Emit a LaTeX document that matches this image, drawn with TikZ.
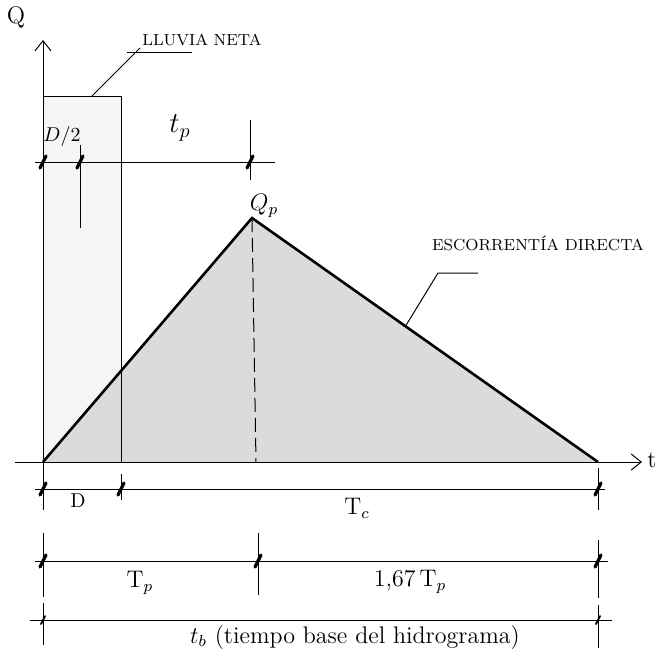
\documentclass[tikz,border=0pt]{standalone}
\usepackage{amsmath,amssymb}
\usepackage{tikz}
\usetikzlibrary{arrows.meta,positioning,calc}

\begin{document}
\begin{tikzpicture}[
    x=0.5pt, y=-0.5pt,
    line width=0.5pt,
    axis/.style={-{Straight Barb[length=5pt,width=8pt]}},
    dimline/.style={line width=0.5pt},
    dimtick/.style={line width=1.6pt, line cap=round},
    smalltick/.style={line width=0.9pt, line cap=round},
    leader/.style={line width=0.5pt},
    lbl/.style={inner sep=1pt}
]
    \useasboundingbox (0,0) rectangle (659,655);

    % key points of the hydrograph
    \coordinate (O) at (43,462);
    \coordinate (ytop) at (43,40);
    \coordinate (ystart) at (43,476);
    \coordinate (xstart) at (15,462);
    \coordinate (xend) at (642,462);
    \coordinate (peak) at (252,218);
    \coordinate (peakfoot) at (256,462);
    \coordinate (tbase) at (598,462);
    \coordinate (rainTL) at (43,96);
    \coordinate (rainTR) at (121,96);
    \coordinate (rainBR) at (121,462);

    % areas
    \fill[gray!8] (O) rectangle (rainTR);
    \fill[gray!28] (O) -- (peak) -- (tbase) -- cycle;

    % rain block and hydrograph
    \draw (rainTL) -- (rainTR) -- (rainBR);
    \draw[line width=1.3pt] (O) -- (peak) -- (tbase);
    \draw[dash pattern=on 7pt off 3pt] (peak) -- (peakfoot);

    % axes
    \draw[axis] (ystart) -- (ytop);
    \draw[axis] (xstart) -- (xend);
    \node[lbl, font=\large] (qlabel) at (16,17) {Q};
    \node[lbl, font=\large] (tlabel) at (652,460) {t};

    % lag time t_p
    \coordinate (tpL) at (35,162);
    \coordinate (tpR) at (275,162);
    \coordinate (tpA) at (43,162);
    \coordinate (tpB) at (80,162);
    \coordinate (tpC) at (250,162);
    \draw[dimline] (tpL) -- (tpR);
    \draw[dimline] (80,145) -- (80,228);
    \draw[dimline] (250,120) -- (250,180);
    \node[lbl] (halfD) at (62,136) {$D/2$};
    \node[lbl, font=\Large] (tp) at (180,128) {$t_p$};
    \node[lbl, font=\large] (qp) at (264,206) {$Q_p$};

    % leader lines
    \coordinate (rainA) at (92,96);
    \coordinate (rainB) at (140,48);
    \coordinate (rainC) at (127,52);
    \coordinate (rainD) at (192,52);
    \draw[leader] (rainA) -- (rainB);
    \draw[leader] (rainC) -- (rainD);
    \node[lbl, font=\footnotesize] (lluvia) at (202,40) {LLUVIA NETA};

    \coordinate (escA) at (405,327);
    \coordinate (escB) at (438,273);
    \coordinate (escC) at (478,273);
    \draw[leader] (escA) -- (escB) -- (escC);
    \node[lbl, font=\footnotesize] (escorr) at (538,243) {ESCORRENTÍA DIRECTA};

    % extension lines below the time axis
    \draw[dimline] (43,476) -- (43,510);
    \draw[dimline] (43,533) -- (43,597);
    \draw[dimline] (43,603) -- (43,645);
    \draw[dimline] (121,474) -- (121,500);
    \draw[dimline] (258,533) -- (258,595);
    \draw[dimline] (598,468) -- (598,510);
    \draw[dimline] (598,540) -- (598,598);
    \draw[dimline] (598,605) -- (598,648);

    % dimension rows
    \coordinate (r1A) at (43,489);
    \coordinate (r1B) at (121,489);
    \coordinate (r1C) at (598,489);
    \draw[dimline] (35,489) -- (605,489);
    \node[lbl, font=\normalsize] (dlabel) at (78,501) {D};
    \node[lbl, font=\large] (tclabel) at (357,508) {$\mathrm{T}_c$};

    \coordinate (r2A) at (43,561);
    \coordinate (r2B) at (258,561);
    \coordinate (r2C) at (598,561);
    \draw[dimline] (35,561) -- (608,561);
    \node[lbl, font=\large] (tplabel) at (140,583) {$\mathrm{T}_p$};
    \node[lbl, font=\large] (tp167) at (410,582) {1,67\,$\mathrm{T}_p$};

    \coordinate (r3A) at (43,620);
    \coordinate (r3C) at (598,620);
    \draw[dimline] (30,620) -- (612,620);
    \node[lbl, font=\large] (tblabel) at (355,637) {$t_b$ (tiempo base del hidrograma)};

    % ticks
    \foreach \c in {tpA,tpB,tpC,r1A,r1B,r1C,r2A,r2B,r2C}
        \draw[dimtick] ($(\c)+(-3,6)$) -- ($(\c)+(3,-6)$);
    \foreach \c in {r3A,r3C}
        \draw[smalltick] ($(\c)+(-2,4)$) -- ($(\c)+(2,-4)$);
\end{tikzpicture}
\end{document}
